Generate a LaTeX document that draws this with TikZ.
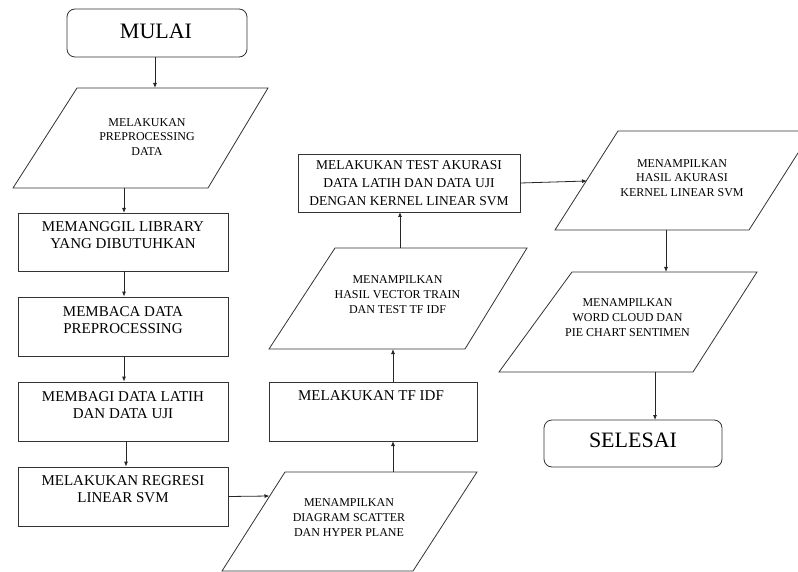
\documentclass[tikz,border=0pt]{standalone}
\usepackage{fontspec}
\setmainfont{Liberation Serif}
\usetikzlibrary{arrows.meta}
\begin{document}
\begin{tikzpicture}[x=1pt,y=-1pt,
  shp/.style={draw=black!80, line width=0.8pt},
  boxs/.style={shp, rectangle, inner sep=0pt},
  term/.style={shp, rectangle, rounded corners=8pt, inner sep=0pt},
  txt/.style={inner sep=0pt, align=center, font=\fontsize{15}{17}\selectfont},
  stxt/.style={inner sep=0pt, align=center, font=\fontsize{13.5}{17.7}\selectfont},
  ptxt/.style={inner sep=0pt, align=center, font=\fontsize{12}{14.7}\selectfont},
  btxt/.style={inner sep=0pt, font=\fontsize{22}{26}\selectfont},
  arr/.style={draw=black!85, line width=0.8pt, -{Latex[length=5pt,width=4pt]}}]
\useasboundingbox (0,0) rectangle (798,572);

% terminals
\node[term, minimum width=180pt, minimum height=48pt] (mulai) at (157,33) {};
\node[btxt] (mulait) at (156,31) {MULAI};
\node[term, minimum width=178pt, minimum height=47pt] (selesai) at (633,443.5) {};
\node[btxt] (selesait) at (633,440) {SELESAI};

% parallelogram 1
\coordinate (p1a) at (77,88); \coordinate (p1b) at (268,88);
\coordinate (p1c) at (208,188); \coordinate (p1d) at (13,188);
\draw[shp] (p1a) -- (p1b) -- (p1c) -- (p1d) -- cycle;
\node[ptxt] (p1t) at (147,137) {MELAKUKAN\\PREPROCESSING\\DATA};

% boxes left column
\node[boxs, minimum width=210pt, minimum height=58pt] (b1) at (123,242) {};
\node[txt] (b1t) at (123,235) {MEMANGGIL LIBRARY\\YANG DIBUTUHKAN};
\node[boxs, minimum width=210pt, minimum height=59pt] (b2) at (123,326.5) {};
\node[txt] (b2t) at (123,320.5) {MEMBACA DATA\\PREPROCESSING};
\node[boxs, minimum width=210pt, minimum height=59pt] (b3) at (123,411.5) {};
\node[txt] (b3t) at (123,405.2) {MEMBAGI DATA LATIH\\DAN DATA UJI};
\node[boxs, minimum width=210pt, minimum height=59pt] (b4) at (123,496.5) {};
\node[txt] (b4t) at (123,489) {MELAKUKAN REGRESI\\LINEAR SVM};

% scatter parallelogram
\coordinate (p2a) at (285,472); \coordinate (p2b) at (477,472);
\coordinate (p2c) at (413,571); \coordinate (p2d) at (222,571);
\draw[shp] (p2a) -- (p2b) -- (p2c) -- (p2d) -- cycle;
\node[ptxt] (p2t) at (349,517.5) {MENAMPILKAN\\DIAGRAM SCATTER\\DAN HYPER PLANE};

% TF IDF box
\node[boxs, minimum width=208pt, minimum height=59pt] (tf) at (373,411.5) {};
\node[txt] (tft) at (371,395.5) {MELAKUKAN TF IDF};

% vector parallelogram
\coordinate (p3a) at (335,248); \coordinate (p3b) at (527,248);
\coordinate (p3c) at (465,349); \coordinate (p3d) at (269,349);
\draw[shp] (p3a) -- (p3b) -- (p3c) -- (p3d) -- cycle;
\node[ptxt] (p3t) at (397.5,294.5) {MENAMPILKAN\\HASIL VECTOR TRAIN\\DAN TEST TF IDF};

% test box
\node[boxs, minimum width=222pt, minimum height=58pt] (test) at (409,183) {};
\node[stxt] (testt) at (409,183) {MELAKUKAN TEST AKURASI\\DATA LATIH DAN DATA UJI\\DENGAN KERNEL LINEAR SVM};

% akurasi parallelogram
\coordinate (p4a) at (618,131); \coordinate (p4b) at (812,131);
\coordinate (p4c) at (749,230); \coordinate (p4d) at (555,230);
\draw[shp] (p4a) -- (p4b) -- (p4c) -- (p4d) -- cycle;
\node[ptxt] (p4t) at (682,178) {MENAMPILKAN\\HASIL AKURASI\\KERNEL LINEAR SVM};

% word cloud parallelogram
\coordinate (p5a) at (572,272); \coordinate (p5b) at (757,272);
\coordinate (p5c) at (693,372); \coordinate (p5d) at (499,372);
\draw[shp] (p5a) -- (p5b) -- (p5c) -- (p5d) -- cycle;
\node[ptxt] (p5t) at (627.5,317.5) {MENAMPILKAN\\WORD CLOUD DAN\\PIE CHART SENTIMEN};

% connector anchor points
\coordinate (c1s) at (155,57);   \coordinate (c1e) at (155,88);
\coordinate (c2s) at (124,188);  \coordinate (c2e) at (124,213);
\coordinate (c6e) at (269.5,496);
\coordinate (c7s) at (393,472);  \coordinate (c7e) at (393,441);
\coordinate (c8s) at (393,382);  \coordinate (c8e) at (393,349);
\coordinate (c9s) at (400,248);  \coordinate (c9e) at (400,212);
\coordinate (c10e) at (587,181);
\coordinate (c11s) at (666,230); \coordinate (c11e) at (666,272);
\coordinate (c12s) at (655,372); \coordinate (c12e) at (655,420);

\draw[arr] (c1s) -- (c1e);
\draw[arr] (c2s) -- (c2e);
\draw[arr] (b1.south -| c2s) -- (b2.north -| c2s);
\draw[arr] (b2.south -| c2s) -- (b3.north -| c2s);
\draw[arr] ([xshift=3pt]b3.south) -- ([xshift=3pt]b4.north);
\draw[arr] (b4.east) -- (c6e);
\draw[arr] (c7s) -- (c7e);
\draw[arr] (c8s) -- (c8e);
\draw[arr] (c9s) -- (c9e);
\draw[arr] (test.east) -- (c10e);
\draw[arr] (c11s) -- (c11e);
\draw[arr] (c12s) -- (c12e);
\end{tikzpicture}
\end{document}
